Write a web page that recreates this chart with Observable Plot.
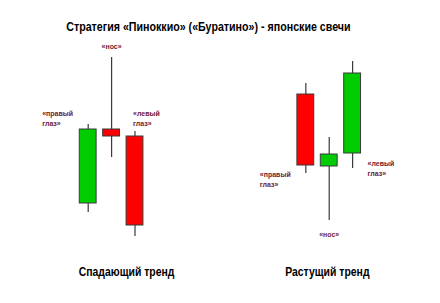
<!DOCTYPE html>
<html><head><meta charset="utf-8">
<script src="https://cdn.jsdelivr.net/npm/d3@7"></script>
<script src="https://cdn.jsdelivr.net/npm/@observablehq/plot@0.6"></script>
<style>
body{margin:0;background:#fff;}
#wrap{position:relative;width:440px;height:303px;overflow:hidden;}
#title{position:absolute;left:0;top:17px;width:416px;text-align:center;white-space:nowrap;}
#title span{display:inline-block;transform:scaleX(0.82);transform-origin:center;font:bold 13px "Liberation Sans",Arial,sans-serif;color:#000;}
#chart{position:absolute;left:0;top:0;}
</style></head>
<body><div id="wrap"><div id="chart"></div><div id="title"><span>Стратегия «Пиноккио» («Буратино») - японские свечи</span></div></div>
<script>
// candle slots (left: falling trend, right: rising trend)
const slot  = [1, 2, 3, 10.3, 11.3, 12.3];
const open  = [37, 111, 104, 146, 74, 87];
const close = [111, 104, 15, 75, 86, 167];
const high  = [116, 183, 109, 157, 103, 179];
const low   = [28, 83, 4, 67, 20, 72];
const candles = slot.map((x, i) => ({x, open: open[i], close: close[i], high: high[i], low: low[i], up: close[i] > open[i]}));

// annotation texts, attached to a candle's high or low
const labelText = ["«нос»", "«правый\nглаз»", "«левый\nглаз»", "«правый\nглаз»", "«левый\nглаз»", "«нос»"];
const labelCandle = [1, 0, 2, 3, 5, 4];
const labelAt = ["high", "high", "high", "low", "low", "low"];
const labelOffset = [[0, -12, "middle"], [-46, -7, "start"], [-2, -14, "start"], [-46, 5, "start"], [15, -1, "start"], [0, 13, "middle"]];

const trendText = ["Спадающий тренд", "Растущий тренд"];
const trendSlot = [2.64, 11.22];
const trends = trendText.map((text, i) => ({text, x: trendSlot[i]}));

const hw = 0.36;
const labelMarks = labelText.map((text, i) => {
  const c = candles[labelCandle[i]];
  const [dx, dy, anchor] = labelOffset[i];
  return Plot.text([{text, x: c.x, y: c[labelAt[i]]}], {x: "x", y: "y", text: "text", dx, dy, textAnchor: anchor,
    fill: "#6e1a35", fontWeight: "bold", fontSize: 7, lineHeight: 1.43,
    fontFamily: "Liberation Sans, Arial, sans-serif"});
});

const chart = Plot.plot({
  width: 440, height: 303,
  margin: 0,
  x: {domain: [0, 16], range: [64.3, 438.7], axis: null},
  y: {domain: [0, 240], range: [240, 0], axis: null},
  style: {background: "transparent"},
  marks: [
    Plot.ruleX(candles, {x: "x", y1: "low", y2: "high", stroke: "#3a3a3a", strokeWidth: 1.2}),
    Plot.rect(candles, {x1: d => d.x - hw, x2: d => d.x + hw, y1: "open", y2: "close",
      fill: d => d.up ? "#00cc00" : "#ff0000", stroke: "#3a3a3a", strokeWidth: 1}),
    ...labelMarks,
    Plot.text(trends, {x: "x", y: 0, text: "text", dy: 32, fill: "#000", fontWeight: "bold", fontSize: 12,
      fontFamily: "Liberation Sans, Arial, sans-serif", className: "trend"})
  ]
});
d3.select(chart).selectAll(".trend text").each(function() {
  const t = this.getAttribute("transform") || "";
  this.setAttribute("transform", t + " scale(0.87,1)");
});
document.getElementById("chart").appendChild(chart);
</script></body></html>
